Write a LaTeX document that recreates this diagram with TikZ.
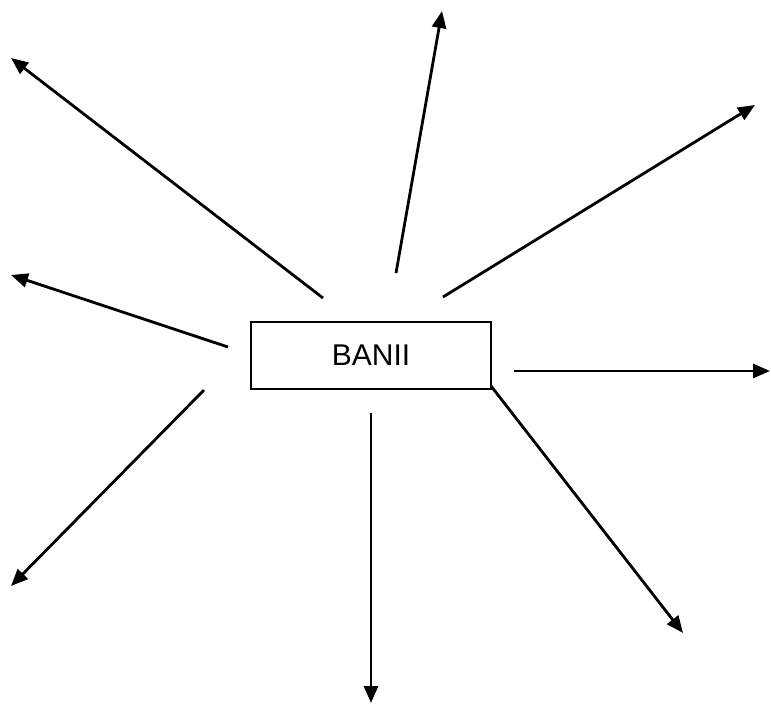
\documentclass[tikz,border=0pt]{standalone}
\usepackage{fontspec}
\setmainfont{Liberation Sans}
\usetikzlibrary{arrows.meta}
\tikzset{
  ray/.style={line width=2.8pt, -{Triangle[length=17pt,width=14pt]}},
  mainbox/.style={draw, line width=1.8pt, minimum width=240pt, minimum height=67pt, inner sep=0pt, font=\fontsize{30}{36}\selectfont}
}
\begin{document}
\begin{tikzpicture}[x=1pt,y=-1pt]
\useasboundingbox (0,0) rectangle (771,704);
\node[mainbox] (box) at (371,355.5) {BANII};
% ray start points around the box
\coordinate (s1) at (323,298);
\coordinate (s2) at (396,273);
\coordinate (s3) at (443,297);
\coordinate (s4) at (228,347);
\coordinate (s5) at (514,371);
\coordinate (s6) at (204,390);
\coordinate (s7) at (371,413);
\coordinate (s8) at (491,386);
% ray end points
\coordinate (e1) at (11,58);
\coordinate (e2) at (442,11);
\coordinate (e3) at (755,105);
\coordinate (e4) at (11,275);
\coordinate (e5) at (770,371);
\coordinate (e6) at (11,586);
\coordinate (e7) at (371,703);
\coordinate (e8) at (683,633);
\foreach \i in {1,...,8} \draw[ray] (s\i) -- (e\i);
\end{tikzpicture}
\end{document}
